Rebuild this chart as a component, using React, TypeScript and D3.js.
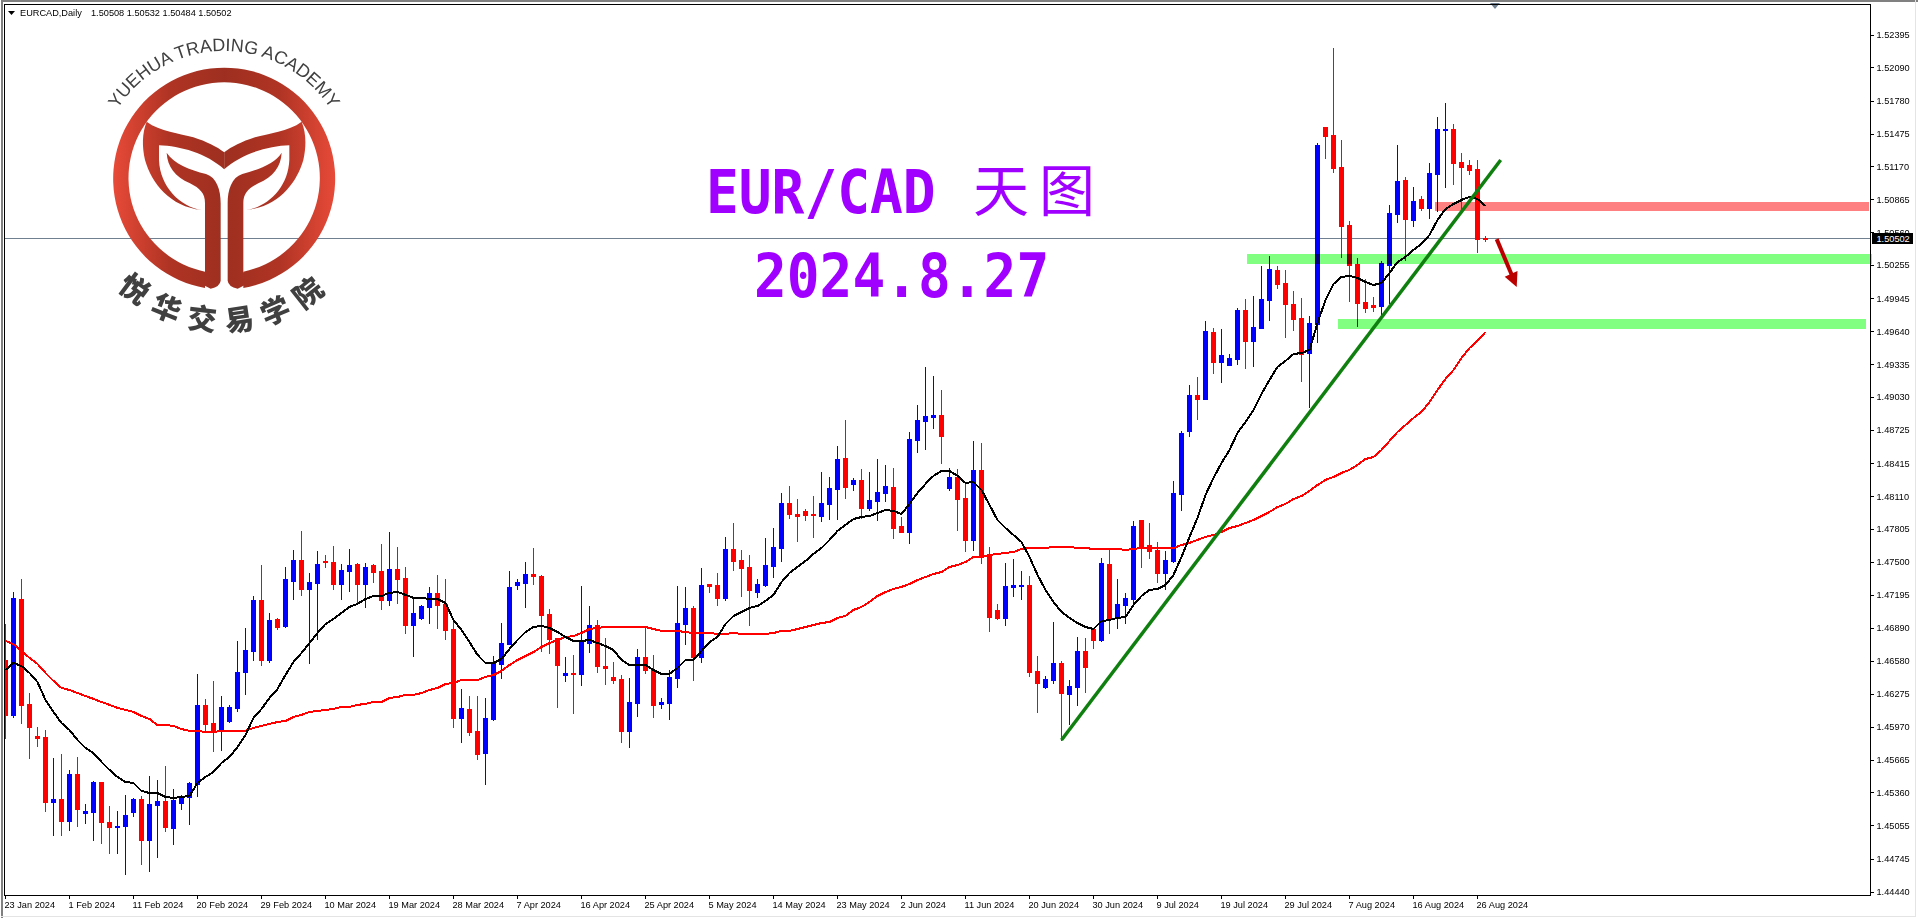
import { useEffect, useRef } from "react";
import * as d3 from "d3";

const WIDTH = 1918;
const HEIGHT = 918;

// EURCAD daily
const opens = [
  1.46594, 1.46084, 1.47160, 1.46186, 1.45888, 1.45879, 1.45275, 1.45303, 1.45100, 1.45536,
  1.45174, 1.45183, 1.45461, 1.45090, 1.45044, 1.45053, 1.45183, 1.45303, 1.44923, 1.45248,
  1.45285, 1.45035, 1.45266, 1.45322, 1.45443, 1.46177, 1.46009, 1.45935, 1.46028, 1.46149,
  1.46482, 1.46678, 1.47151, 1.46594, 1.46974, 1.46910, 1.47327, 1.47522, 1.47253, 1.47308,
  1.47513, 1.47503, 1.47299, 1.47420, 1.47485, 1.47299, 1.47475, 1.47420, 1.47151, 1.47438,
  1.47355, 1.46918, 1.46984, 1.47086, 1.47216, 1.47114, 1.46881, 1.46056, 1.46139, 1.45935,
  1.45730, 1.46046, 1.46557, 1.46742, 1.47290, 1.47308, 1.47392, 1.47373, 1.47021, 1.46798,
  1.46455, 1.46473, 1.46464, 1.46751, 1.46918, 1.46538, 1.46436, 1.46417, 1.45935, 1.46195,
  1.46622, 1.46501, 1.46186, 1.46195, 1.46427, 1.46928, 1.47077, 1.46622, 1.47299, 1.47290,
  1.47170, 1.47624, 1.47522, 1.47457, 1.47225, 1.47290, 1.47466, 1.47633, 1.48051, 1.47949,
  1.47977, 1.47949, 1.47930, 1.48042, 1.48181, 1.48469, 1.48228, 1.48265, 1.48005, 1.48070,
  1.48144, 1.48200, 1.47837, 1.47782, 1.48636, 1.48813, 1.48850, 1.48868, 1.48191, 1.48293,
  1.48098, 1.47708, 1.48358, 1.47569, 1.47058, 1.46984, 1.47272, 1.47281, 1.47290, 1.46492,
  1.46343, 1.46408, 1.46566, 1.46278, 1.46343, 1.46678, 1.46881, 1.46779, 1.47485, 1.46984,
  1.47105, 1.47160, 1.47893, 1.47661, 1.47615, 1.47401, 1.47513, 1.48135, 1.48720, 1.49054,
  1.49017, 1.49638, 1.49360, 1.49333, 1.49388, 1.49843, 1.49555, 1.49676, 1.49935, 1.50214,
  1.50093, 1.49898, 1.49768, 1.49443, 1.49713, 1.51541, 1.51466, 1.51170, 1.50632, 1.50270,
  1.49916, 1.49889, 1.49879, 1.50260, 1.50734, 1.51049, 1.50678, 1.50873, 1.50789, 1.51105,
  1.51513, 1.51523, 1.51216, 1.51189, 1.51151, 1.50508,
];

const highs = [
  1.46928, 1.47225, 1.47345, 1.46287, 1.45972, 1.45944, 1.45684, 1.45721, 1.45573, 1.45693,
  1.45257, 1.45471, 1.45461, 1.45238, 1.45193, 1.45341, 1.45313, 1.45331, 1.45517, 1.45480,
  1.45610, 1.45396, 1.45341, 1.45461, 1.46464, 1.46232, 1.46399, 1.46260, 1.46177, 1.46770,
  1.46891, 1.47188, 1.47475, 1.47030, 1.46984, 1.47457, 1.47615, 1.47792, 1.47401, 1.47606,
  1.47569, 1.47652, 1.47485, 1.47624, 1.47494, 1.47494, 1.47485, 1.47671, 1.47782, 1.47643,
  1.47457, 1.47170, 1.47105, 1.47272, 1.47383, 1.47345, 1.46965, 1.46324, 1.46260, 1.46260,
  1.46241, 1.46631, 1.46937, 1.47420, 1.47345, 1.47503, 1.47633, 1.47383, 1.47067, 1.46798,
  1.46622, 1.46641, 1.47281, 1.47095, 1.46965, 1.46798, 1.46575, 1.46455, 1.46427, 1.46696,
  1.46900, 1.46641, 1.46241, 1.46501, 1.47281, 1.47272, 1.47095, 1.47448, 1.47299, 1.47401,
  1.47736, 1.47865, 1.47615, 1.47569, 1.47345, 1.47726, 1.47819, 1.48144, 1.48209, 1.48088,
  1.47995, 1.48116, 1.48339, 1.48293, 1.48580, 1.48822, 1.48283, 1.48367, 1.48339, 1.48459,
  1.48404, 1.48376, 1.47921, 1.48710, 1.48961, 1.49314, 1.49230, 1.49100, 1.48376, 1.48367,
  1.48237, 1.48627, 1.48608, 1.47643, 1.47114, 1.47494, 1.47531, 1.47420, 1.47373, 1.46631,
  1.46445, 1.46946, 1.46585, 1.46408, 1.46807, 1.46798, 1.46881, 1.47541, 1.47615, 1.47345,
  1.47216, 1.47884, 1.47893, 1.47865, 1.47689, 1.47606, 1.48255, 1.48720, 1.49146, 1.49221,
  1.49741, 1.49676, 1.49666, 1.49434, 1.49861, 1.49944, 1.49972, 1.50251, 1.50344, 1.50251,
  1.50214, 1.50019, 1.49953, 1.49787, 1.51392, 1.51541, 1.52274, 1.51420, 1.50669, 1.50326,
  1.50130, 1.49963, 1.50297, 1.50818, 1.51374, 1.51077, 1.50984, 1.50901, 1.51207, 1.51634,
  1.51764, 1.51569, 1.51300, 1.51235, 1.51235, 1.50532,
];

const lows = [
  1.45870, 1.46065, 1.46009, 1.45684, 1.45795, 1.45193, 1.44970, 1.44970, 1.45016, 1.45053,
  1.45081, 1.44923, 1.44895, 1.44802, 1.44802, 1.44608, 1.45146, 1.44700, 1.44636, 1.44765,
  1.45007, 1.44886, 1.45210, 1.45072, 1.45331, 1.45935, 1.45749, 1.45758, 1.46018, 1.46121,
  1.46278, 1.46594, 1.46547, 1.46575, 1.46881, 1.46900, 1.47160, 1.47198, 1.46566, 1.46788,
  1.47457, 1.47253, 1.47160, 1.47235, 1.47132, 1.47086, 1.47317, 1.47067, 1.47105, 1.47123,
  1.46844, 1.46631, 1.46974, 1.46937, 1.46891, 1.46788, 1.45972, 1.45832, 1.45898, 1.45675,
  1.45443, 1.46037, 1.46427, 1.46742, 1.47253, 1.47086, 1.47299, 1.46678, 1.46659, 1.46158,
  1.46399, 1.46102, 1.46362, 1.46668, 1.46482, 1.46371, 1.46380, 1.45832, 1.45786, 1.46074,
  1.46473, 1.46065, 1.46149, 1.46046, 1.46343, 1.46742, 1.46408, 1.46575, 1.47225, 1.47105,
  1.47151, 1.47429, 1.47188, 1.46918, 1.47179, 1.47281, 1.47364, 1.47513, 1.47912, 1.47699,
  1.47893, 1.47736, 1.47884, 1.47902, 1.47902, 1.48098, 1.48172, 1.47912, 1.47986, 1.47893,
  1.48070, 1.47726, 1.47782, 1.47680, 1.48524, 1.48552, 1.48748, 1.48422, 1.48172, 1.47801,
  1.47606, 1.47615, 1.47494, 1.46863, 1.46974, 1.46918, 1.47188, 1.47160, 1.46445, 1.46111,
  1.46334, 1.46380, 1.45851, 1.46000, 1.46177, 1.46296, 1.46705, 1.46770, 1.46844, 1.46891,
  1.46937, 1.47095, 1.47457, 1.47541, 1.47317, 1.47253, 1.47503, 1.47986, 1.48673, 1.48831,
  1.49017, 1.49258, 1.49174, 1.49333, 1.49342, 1.49305, 1.49323, 1.49676, 1.49750, 1.50047,
  1.49592, 1.49657, 1.49184, 1.48942, 1.49546, 1.51253, 1.51123, 1.50335, 1.49925, 1.49694,
  1.49824, 1.49833, 1.49796, 1.49907, 1.50660, 1.50307, 1.50622, 1.50771, 1.50696, 1.50761,
  1.50984, 1.51012, 1.50771, 1.51105, 1.50381, 1.50484,
];

const closes = [
  1.46084, 1.47170, 1.46177, 1.45972, 1.45870, 1.45275, 1.45303, 1.45100, 1.45536, 1.45210,
  1.45193, 1.45461, 1.45090, 1.45044, 1.45053, 1.45156, 1.45303, 1.44923, 1.45257, 1.45285,
  1.45044, 1.45294, 1.45331, 1.45452, 1.46177, 1.46000, 1.45925, 1.46158, 1.46158, 1.46482,
  1.46687, 1.47151, 1.46594, 1.46965, 1.46900, 1.47345, 1.47522, 1.47253, 1.47317, 1.47485,
  1.47503, 1.47299, 1.47429, 1.47475, 1.47299, 1.47457, 1.47410, 1.47151, 1.47438, 1.47345,
  1.46918, 1.47030, 1.47095, 1.47216, 1.47105, 1.46872, 1.46056, 1.46149, 1.45925, 1.45721,
  1.46056, 1.46566, 1.46751, 1.47272, 1.47317, 1.47392, 1.47373, 1.47012, 1.46788, 1.46547,
  1.46473, 1.46464, 1.46770, 1.46918, 1.46538, 1.46519, 1.46408, 1.45935, 1.46204, 1.46622,
  1.46501, 1.46177, 1.46204, 1.46436, 1.46937, 1.47077, 1.46622, 1.47290, 1.47281, 1.47170,
  1.47624, 1.47513, 1.47448, 1.47244, 1.47299, 1.47475, 1.47643, 1.48051, 1.47949, 1.47930,
  1.47940, 1.47940, 1.48051, 1.48191, 1.48459, 1.48200, 1.48265, 1.48005, 1.48079, 1.48153,
  1.48209, 1.47819, 1.47782, 1.48645, 1.48822, 1.48859, 1.48868, 1.48673, 1.48293, 1.48088,
  1.47708, 1.48358, 1.47550, 1.46993, 1.46984, 1.47281, 1.47290, 1.47290, 1.46482, 1.46380,
  1.46417, 1.46566, 1.46287, 1.46352, 1.46678, 1.46529, 1.46779, 1.47494, 1.46984, 1.47114,
  1.47170, 1.47837, 1.47652, 1.47606, 1.47401, 1.47522, 1.48144, 1.48701, 1.49054, 1.49017,
  1.49648, 1.49360, 1.49425, 1.49397, 1.49843, 1.49555, 1.49685, 1.49944, 1.50223, 1.50084,
  1.49898, 1.49759, 1.49434, 1.49722, 1.51374, 1.51457, 1.51160, 1.50622, 1.50260, 1.49907,
  1.49861, 1.49870, 1.50279, 1.50743, 1.51040, 1.50687, 1.50854, 1.50789, 1.51114, 1.51523,
  1.51523, 1.51207, 1.51170, 1.51142, 1.50502, 1.50502,
];

// short moving average (black)
const maFast = [
  1.46501, 1.46566, 1.46538, 1.46473, 1.46389, 1.46223, 1.46111, 1.46009, 1.45944, 1.45851,
  1.45777, 1.45730, 1.45647, 1.45573, 1.45508, 1.45461, 1.45452, 1.45378, 1.45359, 1.45359,
  1.45322, 1.45313, 1.45322, 1.45331, 1.45452, 1.45508, 1.45554, 1.45638, 1.45693, 1.45786,
  1.45898, 1.46056, 1.46139, 1.46241, 1.46324, 1.46455, 1.46575, 1.46659, 1.46751, 1.46844,
  1.46928, 1.46974, 1.47030, 1.47086, 1.47114, 1.47160, 1.47188, 1.47188, 1.47216, 1.47225,
  1.47198, 1.47170, 1.47170, 1.47160, 1.47160, 1.47123, 1.46965, 1.46872, 1.46760, 1.46641,
  1.46566, 1.46566, 1.46603, 1.46696, 1.46779, 1.46853, 1.46900, 1.46910, 1.46891, 1.46853,
  1.46807, 1.46770, 1.46770, 1.46779, 1.46751, 1.46724, 1.46687, 1.46594, 1.46547, 1.46547,
  1.46547, 1.46501, 1.46464, 1.46464, 1.46519, 1.46594, 1.46594, 1.46678, 1.46760, 1.46807,
  1.46928, 1.47002, 1.47040, 1.47077, 1.47095, 1.47142, 1.47198, 1.47317, 1.47401, 1.47457,
  1.47513, 1.47578, 1.47633, 1.47708, 1.47792, 1.47847, 1.47902, 1.47921, 1.47930, 1.47958,
  1.47986, 1.47977, 1.47949, 1.48042, 1.48144, 1.48228, 1.48302, 1.48349, 1.48349, 1.48302,
  1.48237, 1.48246, 1.48172, 1.48033, 1.47893, 1.47819, 1.47754, 1.47689, 1.47550, 1.47383,
  1.47244, 1.47132, 1.47040, 1.46984, 1.46937, 1.46900, 1.46881, 1.46955, 1.46965, 1.46984,
  1.46993, 1.47105, 1.47188, 1.47244, 1.47253, 1.47290, 1.47383, 1.47550, 1.47736, 1.47912,
  1.48125, 1.48283, 1.48422, 1.48543, 1.48701, 1.48803, 1.48914, 1.49063, 1.49193, 1.49314,
  1.49370, 1.49434, 1.49443, 1.49471, 1.49722, 1.49935, 1.50084, 1.50149, 1.50158, 1.50140,
  1.50102, 1.50074, 1.50093, 1.50186, 1.50288, 1.50335, 1.50400, 1.50455, 1.50539, 1.50678,
  1.50780, 1.50827, 1.50864, 1.50892, 1.50873, 1.50808,
];

// long moving average (red)
const maSlow = [
  1.46770, 1.46742, 1.46678, 1.46613, 1.46557, 1.46473, 1.46399, 1.46334, 1.46315, 1.46287,
  1.46260, 1.46232, 1.46204, 1.46177, 1.46149, 1.46130, 1.46111, 1.46074, 1.46046, 1.45990,
  1.45990, 1.45981, 1.45953, 1.45935, 1.45935, 1.45925, 1.45925, 1.45935, 1.45935, 1.45935,
  1.45935, 1.45963, 1.45981, 1.46000, 1.46018, 1.46028, 1.46065, 1.46084, 1.46111, 1.46121,
  1.46130, 1.46139, 1.46158, 1.46158, 1.46177, 1.46186, 1.46204, 1.46204, 1.46241, 1.46250,
  1.46269, 1.46269, 1.46287, 1.46315, 1.46334, 1.46371, 1.46380, 1.46408, 1.46408, 1.46408,
  1.46436, 1.46455, 1.46492, 1.46547, 1.46594, 1.46631, 1.46668, 1.46715, 1.46751, 1.46779,
  1.46807, 1.46816, 1.46844, 1.46881, 1.46891, 1.46900, 1.46900, 1.46900, 1.46900, 1.46900,
  1.46900, 1.46881, 1.46863, 1.46863, 1.46863, 1.46853, 1.46844, 1.46844, 1.46844, 1.46835,
  1.46835, 1.46844, 1.46835, 1.46835, 1.46835, 1.46835, 1.46844, 1.46863, 1.46863, 1.46881,
  1.46900, 1.46918, 1.46937, 1.46946, 1.46984, 1.47002, 1.47058, 1.47086, 1.47132, 1.47188,
  1.47225, 1.47253, 1.47272, 1.47299, 1.47336, 1.47364, 1.47392, 1.47410, 1.47457, 1.47475,
  1.47503, 1.47550, 1.47550, 1.47569, 1.47578, 1.47587, 1.47596, 1.47624, 1.47633, 1.47633,
  1.47633, 1.47643, 1.47643, 1.47643, 1.47633, 1.47633, 1.47624, 1.47624, 1.47624, 1.47624,
  1.47615, 1.47624, 1.47633, 1.47633, 1.47633, 1.47633, 1.47633, 1.47661, 1.47680, 1.47708,
  1.47736, 1.47754, 1.47782, 1.47819, 1.47837, 1.47865, 1.47893, 1.47930, 1.47968, 1.48014,
  1.48042, 1.48088, 1.48116, 1.48163, 1.48218, 1.48265, 1.48293, 1.48330, 1.48358, 1.48404,
  1.48459, 1.48478, 1.48543, 1.48627, 1.48710, 1.48775, 1.48840, 1.48896, 1.48989, 1.49100,
  1.49202, 1.49286, 1.49397, 1.49490, 1.49555, 1.49638,
];

const priceTicks = [
  1.52395, 1.5209, 1.5178, 1.51475, 1.5117, 1.50865, 1.5056, 1.50255, 1.49945,
  1.4964, 1.49335, 1.4903, 1.48725, 1.48415, 1.4811, 1.47805, 1.475, 1.47195,
  1.4689, 1.4658, 1.46275, 1.4597, 1.45665, 1.4536, 1.45055, 1.44745, 1.4444,
];

const dateLabels = [
  "23 Jan 2024", "1 Feb 2024", "11 Feb 2024", "20 Feb 2024", "29 Feb 2024", "10 Mar 2024",
  "19 Mar 2024", "28 Mar 2024", "7 Apr 2024", "16 Apr 2024", "25 Apr 2024", "5 May 2024",
  "14 May 2024", "23 May 2024", "2 Jun 2024", "11 Jun 2024", "20 Jun 2024", "30 Jun 2024",
  "9 Jul 2024", "19 Jul 2024", "29 Jul 2024", "7 Aug 2024", "16 Aug 2024", "26 Aug 2024",
];

const lastPrice = 1.50502;
const headerValues = ["1.50508", "1.50532", "1.50484", "1.50502"];

// drawn levels: [from bar, to bar, top price, bottom price]
const greenZones = [
  [155.2, 233.3, 1.50363, 1.5027],
  [166.6, 232.6, 1.49759, 1.49666],
];
const redZones = [[178.7, 232.9, 1.50845, 1.50762]];
// [bar, price] ends
const trendLine = [
  [132, 1.45851],
  [186.9, 1.51235],
];
const arrowShaft = [
  [186.4, 1.505],
  [188.3, 1.50165],
];
const arrowHead = [
  [187.4, 1.5015],
  [189, 1.50205],
  [188.9, 1.50056],
];

const FONT = "'Liberation Sans', Arial, sans-serif";
const BLUE = "#0000ff";
const RED = "#ff0000";
const PURPLE = "#a000ff";

// logo arcs, centre of the ring
const LOGO_X = 224;
const LOGO_Y = 178;

function arcPath(r: number, from: number, to: number, sweep: number) {
  // angles in degrees, clockwise from 12 o'clock
  const pt = (a: number) => {
    const t = (a * Math.PI) / 180;
    return `${LOGO_X + r * Math.sin(t)} ${LOGO_Y - r * Math.cos(t)}`;
  };
  return `M ${pt(from)} A ${r} ${r} 0 0 ${sweep} ${pt(to)}`;
}

function Logo() {
  // half of the tail and stem, in 3x crop units, mirrored for the other side
  const stem =
    "M260 398 C280 430 330 450 378 462 C410 472 422 510 422 550 L422 782 Q420 800 392 806 L360 790 L375 755 L375 550 C375 520 360 505 330 490 C285 470 262 440 260 398 Z";
  const tail =
    "M200 305 C240 335 300 340 340 352 C380 365 410 380 432.5 397 L432.5 448 C380 400 300 378 237 376 L237 420 C240 500 300 560 365 570 C270 560 215 490 195 420 C186 380 186 340 200 305 Z";
  return (
    <g>
      <defs>
        <linearGradient id="logoGrad" gradientUnits="userSpaceOnUse" x1="98" x2="767" y1="0" y2="0">
          <stop offset="0" stopColor="#e84a38" />
          <stop offset="0.25" stopColor="#b03424" />
          <stop offset="0.5" stopColor="#9e2f20" />
          <stop offset="0.75" stopColor="#b03424" />
          <stop offset="1" stopColor="#e84a38" />
        </linearGradient>
        <path id="logoTop" d={arcPath(127, -62, 62, 1)} />
        <path id="logoBottom" d={arcPath(153, 222, 138, 0)} />
      </defs>
      <g transform="translate(80,20) scale(0.33333)">
        <path
          d="M375 755 A287 287 0 1 1 490 755 L490 804 A333 333 0 1 0 375 804 Z"
          fill="url(#logoGrad)"
        />
        <path d={tail} fill="url(#logoGrad)" />
        <path d={stem} fill="url(#logoGrad)" />
        <g transform="translate(865,0) scale(-1,1)">
          <path d={tail} fill="url(#logoGrad)" />
          <path d={stem} fill="url(#logoGrad)" />
        </g>
      </g>
      <text fontFamily={FONT} fontSize={18} fill="#404040">
        <textPath href="#logoTop" startOffset="50%" textAnchor="middle">
          YUEHUA TRADING ACADEMY
        </textPath>
      </text>
      <text
        fontFamily="'Noto Sans CJK SC', sans-serif"
        fontSize={29}
        fontWeight={900}
        fill="#404040"
        letterSpacing={11}
      >
        <textPath href="#logoBottom" startOffset="51%" textAnchor="middle">
          悦华交易学院
        </textPath>
      </text>
    </g>
  );
}

export default function App() {
  const ref = useRef<SVGSVGElement | null>(null);

  useEffect(() => {
    const x = d3.scaleLinear().domain([0, 185]).range([5.5, 1485.5]);
    const y = d3.scaleLinear().domain([1.4444, 1.52395]).range([892, 35]);

    const svg = d3.select(ref.current);
    svg.select(".chart").remove();
    const root = svg.insert("g", ".logo").attr("class", "chart");

    root
      .append("clipPath")
      .attr("id", "plotClip")
      .append("rect")
      .attr("x", 5)
      .attr("y", 5)
      .attr("width", 1865)
      .attr("height", 890);

    const plot = root.append("g").attr("clip-path", "url(#plotClip)");

    // current price line
    plot
      .append("line")
      .attr("x1", 5)
      .attr("x2", 1870)
      .attr("y1", Math.floor(y(lastPrice)) + 0.5)
      .attr("y2", Math.floor(y(lastPrice)) + 0.5)
      .attr("stroke", "#708090");

    // candles
    const bars = plot
      .selectAll("g.bar")
      .data(opens.map((o, i) => ({ i, o, h: highs[i], l: lows[i], c: closes[i] })))
      .enter()
      .append("g")
      .attr("class", "bar")
      .attr("shape-rendering", "crispEdges")
      .attr("fill", (d) => (d.c >= d.o ? BLUE : RED));

    bars
      .append("rect")
      .attr("x", (d) => x(d.i) - 0.5)
      .attr("width", 1)
      .attr("y", (d) => Math.round(y(d.h)))
      .attr("height", (d) => Math.round(y(d.l)) - Math.round(y(d.h)) + 1);

    bars
      .append("rect")
      .attr("x", (d) => x(d.i) - 2.5)
      .attr("width", 5)
      .attr("y", (d) => Math.round(y(Math.max(d.o, d.c))))
      .attr("height", (d) =>
        Math.max(1, Math.round(y(Math.min(d.o, d.c))) - Math.round(y(Math.max(d.o, d.c))) + 1)
      );

    // moving averages
    const line = d3
      .line<number>()
      .x((_, i) => x(i))
      .y((d) => y(d));

    plot
      .append("path")
      .attr("d", line(maSlow))
      .attr("fill", "none")
      .attr("stroke", RED)
      .attr("stroke-width", 2)
      .attr("shape-rendering", "crispEdges");

    plot
      .append("path")
      .attr("d", line(maFast))
      .attr("fill", "none")
      .attr("stroke", "#000")
      .attr("stroke-width", 2)
      .attr("shape-rendering", "crispEdges");

    // levels, multiplied over the candles
    const zones = root.append("g").attr("shape-rendering", "crispEdges");
    const addZones = (rows: number[][], color: string) => {
      zones
        .selectAll(null)
        .data(rows)
        .enter()
        .append("rect")
        .attr("x", (d) => x(d[0]))
        .attr("width", (d) => x(d[1]) - x(d[0]))
        .attr("y", (d) => y(d[2]))
        .attr("height", (d) => y(d[3]) - y(d[2]))
        .attr("fill", color)
        .style("mix-blend-mode", "multiply");
    };
    addZones(greenZones, "#80ff80");
    addZones(redZones, "#ff8080");

    // trend line and arrow
    root
      .append("line")
      .attr("x1", x(trendLine[0][0]))
      .attr("y1", y(trendLine[0][1]))
      .attr("x2", x(trendLine[1][0]))
      .attr("y2", y(trendLine[1][1]))
      .attr("stroke", "#0f7f0f")
      .attr("stroke-width", 3.5);

    root
      .append("line")
      .attr("x1", x(arrowShaft[0][0]))
      .attr("y1", y(arrowShaft[0][1]))
      .attr("x2", x(arrowShaft[1][0]))
      .attr("y2", y(arrowShaft[1][1]))
      .attr("stroke", "#bb0000")
      .attr("stroke-width", 4);

    root
      .append("path")
      .attr("d", d3.line()(arrowHead.map((p) => [x(p[0]), y(p[1])]))! + "Z")
      .attr("fill", "#bb0000");

    // frame
    root
      .append("rect")
      .attr("x", 4.5)
      .attr("y", 4.5)
      .attr("width", 1866)
      .attr("height", 891)
      .attr("fill", "none")
      .attr("stroke", "#000")
      .attr("shape-rendering", "crispEdges");

    // axes
    const yAxis = d3
      .axisRight(y)
      .tickValues(priceTicks)
      .tickFormat((d) => (d as number).toFixed(5))
      .tickSize(3)
      .offset(0);

    const yG = root
      .append("g")
      .attr("transform", "translate(1870.5,0)")
      .attr("font-family", FONT)
      .call(yAxis);
    yG.select(".domain").remove();
    yG.selectAll("line").attr("shape-rendering", "crispEdges");
    yG.selectAll("text").attr("x", 6).attr("font-family", FONT).attr("font-size", 9.2).attr("fill", "#000");

    const xAxis = d3
      .axisBottom(x)
      .tickValues(dateLabels.map((_, i) => i * 8))
      .tickFormat((_, i) => dateLabels[i])
      .tickSize(3)
      .offset(0);

    const xG = root
      .append("g")
      .attr("transform", "translate(0,895.5)")
      .attr("font-family", FONT)
      .call(xAxis);
    xG.select(".domain").remove();
    xG.selectAll("line").attr("shape-rendering", "crispEdges");
    xG.selectAll("text")
      .attr("text-anchor", "start")
      .attr("x", -1)
      .attr("y", 12.5)
      .attr("dy", 0)
      .attr("font-family", FONT)
      .attr("font-size", 9.2)
      .attr("fill", "#000");

    // last price tag
    root
      .append("rect")
      .attr("x", 1872)
      .attr("y", 233)
      .attr("width", 41)
      .attr("height", 11)
      .attr("fill", "#000");
    root
      .append("text")
      .attr("x", 1876.5)
      .attr("y", y(lastPrice))
      .attr("dy", "0.3em")
      .attr("font-family", FONT)
      .attr("font-size", 9.2)
      .attr("fill", "#fff")
      .text(lastPrice.toFixed(5));
  }, []);

  return (
    <svg
      ref={ref}
      width={WIDTH}
      height={HEIGHT}
      viewBox={`0 0 ${WIDTH} ${HEIGHT}`}
      style={{ position: "absolute", left: 0, top: 0, background: "#fff" }}
    >
      {/* window edges */}
      <rect x={1} y={0} width={1917} height={2} fill="#808080" />
      <rect x={1} y={0} width={2} height={918} fill="#808080" />
      <rect x={1915} y={0} width={1} height={917} fill="#e4e4e4" />
      <rect x={1} y={916} width={1915} height={1} fill="#e4e4e4" />

      {/* header */}
      <path d="M8 11 L15 11 L11.5 15 Z" fill="#000" />
      <text x={20} y={16} fontFamily={FONT} fontSize={9.2} fill="#000">
        EURCAD,Daily
      </text>
      <text x={91} y={16} fontFamily={FONT} fontSize={9.2} fill="#000">
        {headerValues.join(" ")}
      </text>
      <path d="M1490 3 L1500 3 L1495 9 Z" fill="#708090" />

      <g className="logo">
        <Logo />
      </g>

      {/* titles */}
      <g fill={PURPLE} fontWeight={700} fontFamily="'DejaVu Sans Mono', monospace" fontSize={54.5}>
        <text transform="translate(706,212.5) scale(1,1.1)">EUR/CAD</text>
        <text transform="translate(754,297) scale(1,1.1)">2024.8.27</text>
      </g>
      <text x={973} y={211} fill={PURPLE} fontFamily="'Noto Sans CJK SC', sans-serif" fontSize={56}>
        天
      </text>
      <text x={1039} y={211} fill={PURPLE} fontFamily="'Noto Sans CJK SC', sans-serif" fontSize={56}>
        图
      </text>
    </svg>
  );
}
